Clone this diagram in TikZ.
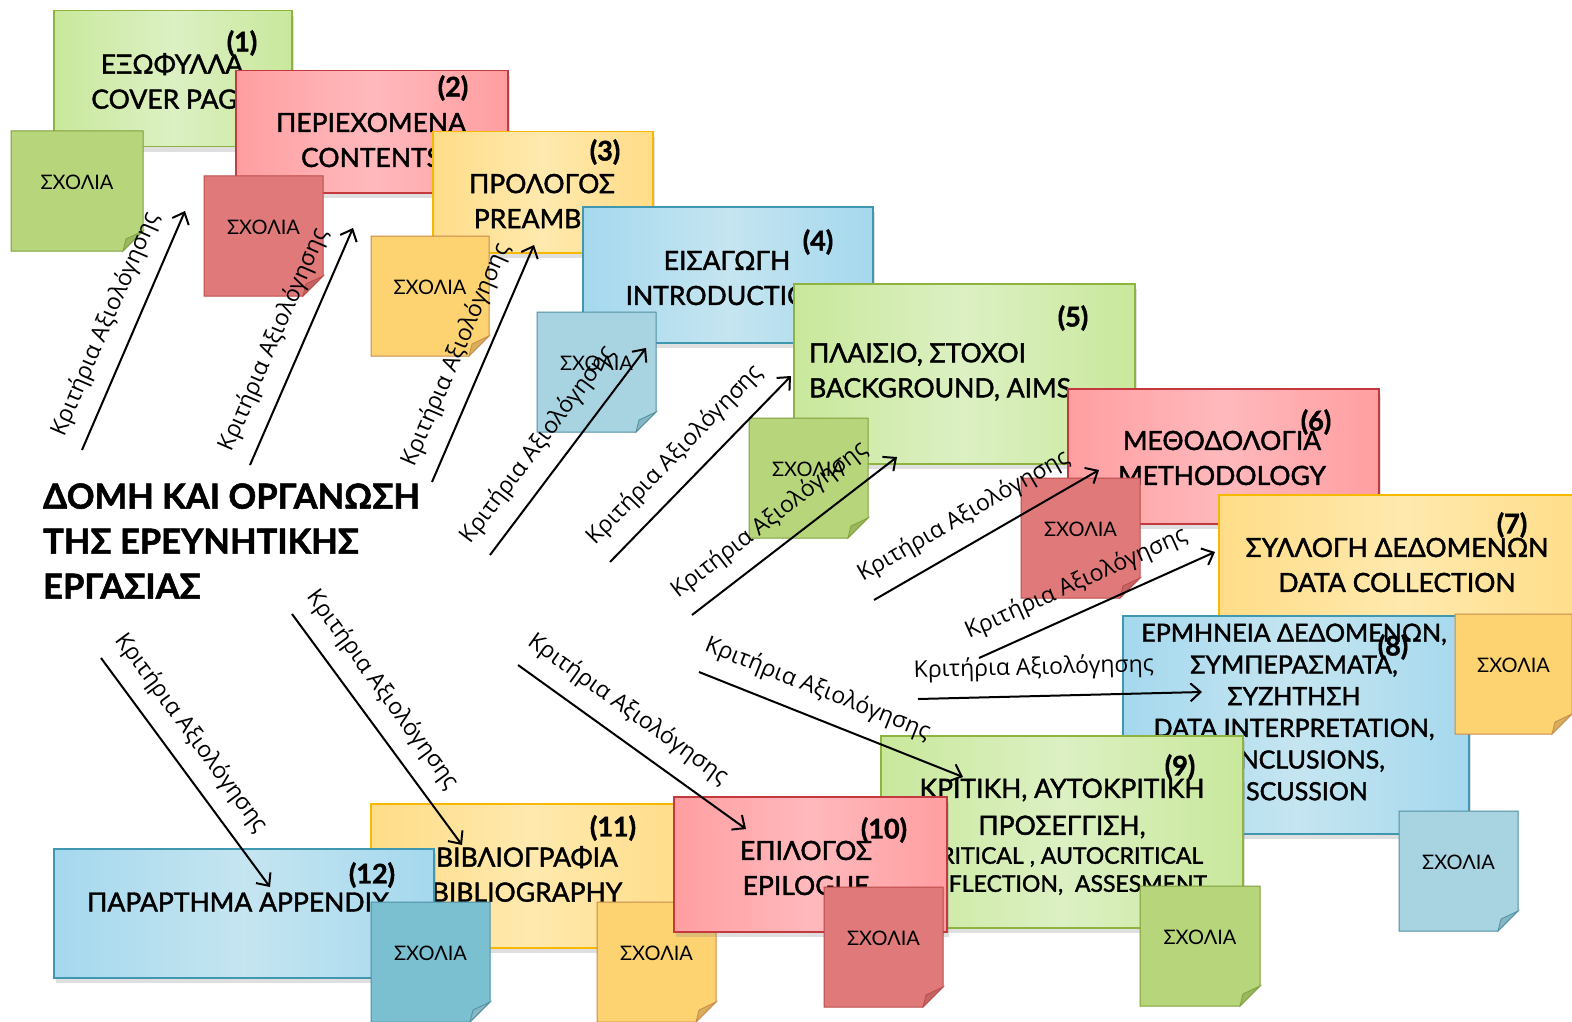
\documentclass[tikz,border=0pt]{standalone}
\usepackage{fontspec}
\setmainfont{Lato}
\newfontfamily\boxfont[FakeBold=1.6]{Lato}
\newfontfamily\labfont{Open Sans}
\usetikzlibrary{arrows.meta,shadows}
% big boxes
\definecolor{gB}{HTML}{8EB43F}\definecolor{gL}{HTML}{C9E89C}\definecolor{gM}{HTML}{DCF0C3}
\definecolor{rB}{HTML}{C4393D}\definecolor{rL}{HTML}{FF9EA1}\definecolor{rM}{HTML}{FFB9BC}
\definecolor{yB}{HTML}{F6B800}\definecolor{yL}{HTML}{FFDD88}\definecolor{yM}{HTML}{FFE9AE}
\definecolor{bB}{HTML}{3F97B0}\definecolor{bL}{HTML}{A5D8EE}\definecolor{bM}{HTML}{C5E5F0}
% sticky notes
\definecolor{gS}{HTML}{B7D57A}\definecolor{gSB}{HTML}{7FA03C}\definecolor{gSF}{HTML}{9AB95E}
\definecolor{rS}{HTML}{E07A7A}\definecolor{rSB}{HTML}{BC4A4A}\definecolor{rSF}{HTML}{C46464}
\definecolor{yS}{HTML}{FCD370}\definecolor{ySB}{HTML}{C98B4C}\definecolor{ySF}{HTML}{D6AE5C}
\definecolor{bS}{HTML}{A8D4E1}\definecolor{bSB}{HTML}{4F8FA3}\definecolor{bSF}{HTML}{86B5C3}
\definecolor{bT}{HTML}{7BC0D1}
\tikzset{
  bigbox/.style={rectangle, line width=1.5pt, inner sep=0pt, anchor=north west,
    drop shadow={shadow xshift=2pt, shadow yshift=-5pt, opacity=0.25}},
  greenbox/.style={bigbox, draw=gB, left color=gL, right color=gL, middle color=gM},
  redbox/.style={bigbox, draw=rB, left color=rL, right color=rL, middle color=rM},
  yellowbox/.style={bigbox, draw=yB, left color=yL, right color=yL, middle color=yM},
  bluebox/.style={bigbox, draw=bB, left color=bL, right color=bL, middle color=bM},
  boxtext/.style={font=\boxfont\fontsize{26.5}{35}\selectfont, align=center, inner sep=0pt, text=black},
  numtext/.style={font=\boxfont\bfseries\fontsize{27}{28}\selectfont, inner sep=0pt},
  notetext/.style={font=\fontsize{20}{24}\selectfont, inner sep=0pt},
  lab/.style={font=\labfont\fontsize{23}{26}\selectfont, sloped, above=15pt, inner sep=0pt},
  arr/.style={line width=2pt, -{Straight Barb[length=10pt,width=18pt]}},
}
\newcommand\stickynote[7]{%
  \path[fill=#5, draw=#6, line width=1pt] (#2,#3) -- ++(#4,0) -- ++(0,100) -- ++(-20,20) -- ++({20-#4},0) -- cycle;
  \path[fill=#7, draw=#6, line width=0.8pt] ({#2+#4},{#3+100}) -- ++(-20,20) -- ++(3,-12) -- cycle;
  \node[notetext] (#1) at ({#2+#4/2},{#3+51}) {ΣΧΟΛΙΑ};}
\begin{document}
\begin{tikzpicture}[x=1pt,y=-1pt]
\useasboundingbox (0,0) rectangle (1572,1022);
% (1)
\node[greenbox, minimum width=238pt, minimum height=136pt] (b1) at (53,10) {};
\node[boxtext] (t1) at (172,81) {ΕΞΩΦΥΛΛΑ\\COVER PAGE};
\node[numtext] (n1) at (242,43) {(1)};
\stickynote{s1}{11}{131}{132}{gS}{gSB}{gSF}
% (2)
\node[redbox, minimum width=272pt, minimum height=122pt] (b2) at (235,70) {};
\node[boxtext] (t2) at (371,140) {ΠΕΡΙΕΧΟΜΕΝΑ\\CONTENTS};
\node[numtext] (n2) at (453,88) {(2)};
\stickynote{s2}{204}{176}{119}{rS}{rSB}{rSF}
% (3)
\node[yellowbox, minimum width=220pt, minimum height=121pt] (b3) at (432,131) {};
\node[boxtext] (t3) at (542,201) {ΠΡΟΛΟΓΟΣ\\PREAMBLE};
\node[numtext] (n3) at (605,152) {(3)};
\stickynote{s3}{371}{236}{118}{yS}{ySB}{ySF}
% (4)
\node[bluebox, minimum width=290pt, minimum height=136pt] (b4) at (582,206) {};
\node[boxtext] (t4) at (727,278) {ΕΙΣΑΓΩΓΗ\\INTRODUCTION};
\node[numtext] (n4) at (818,242) {(4)};
\stickynote{s4}{537}{312}{119}{bS}{bSB}{bSF}
% (5)
\node[greenbox, minimum width=341pt, minimum height=180pt] (b5) at (793,283) {};
\node[boxtext, align=left, anchor=west] (t5) at (809,372) {ΠΛΑΙΣΙΟ, ΣΤΟΧΟΙ\\BACKGROUND, AIMS};
\node[numtext] (n5) at (1073,318) {(5)};
\stickynote{s5}{749}{418}{119}{gS}{gSB}{gSF}
% (6)
\node[redbox, minimum width=311pt, minimum height=135pt] (b6) at (1067,388) {};
\node[boxtext] (t6) at (1222,458) {ΜΕΘΟΔΟΛΟΓΙΑ\\METHODOLOGY};
\node[numtext] (n6) at (1316,422) {(6)};
\stickynote{s6}{1021}{478}{119}{rS}{rSB}{rSF}
% (7)
\node[yellowbox, minimum width=370pt, minimum height=131pt] (b7) at (1218,494) {};
\node[boxtext] (t7) at (1397,565) {ΣΥΛΛΟΓΗ ΔΕΔΟΜΕΝΩΝ\\DATA COLLECTION};
\node[numtext] (n7) at (1512,525) {(7)};
% (8)
\node[bluebox, minimum width=346pt, minimum height=218pt] (b8) at (1122,615) {};
\node[boxtext, font=\boxfont\fontsize{25}{31.7}\selectfont] (t8) at (1294,712) {ΕΡΜΗΝΕΙΑ ΔΕΔΟΜΕΝΩΝ,\\ΣΥΜΠΕΡΑΣΜΑΤΑ,\\ΣΥΖΗΤΗΣΗ\\DATA INTERPRETATION,\\CONCLUSIONS,\\DISCUSSION};
\node[numtext] (n8) at (1393,647) {(8)};
\stickynote{s7}{1455}{614}{117}{yS}{ySB}{ySF}
\stickynote{s8}{1399}{811}{119}{bS}{bSB}{bSF}
% (9)
\node[greenbox, minimum width=362pt, minimum height=192pt] (b9) at (880,735) {};
\node[boxtext, font=\boxfont\fontsize{26.5}{30}\selectfont] (t9a) at (1062,790) {ΚΡΙΤΙΚΗ, ΑΥΤΟΚΡΙΤΙΚΗ};
\node[boxtext, font=\boxfont\fontsize{26.5}{30}\selectfont] (t9b) at (1062,827) {ΠΡΟΣΕΓΓΙΣΗ,};
\node[boxtext, font=\boxfont\fontsize{23}{26}\selectfont] (t9c) at (1064,857) {CRITICAL , AUTOCRITICAL};
\node[boxtext, font=\boxfont\fontsize{23}{26}\selectfont] (t9d) at (1064,885) {REFLECTION,\ \ ASSESMENT};
\node[numtext] (n9) at (1180,767) {(9)};
\stickynote{s9}{1140}{886}{120}{gS}{gSB}{gSF}
% (11)
\node[yellowbox, minimum width=320pt, minimum height=144pt] (b11) at (370,803) {};
\node[boxtext] (t11) at (527,874) {ΒΙΒΛΙΟΓΡΑΦΙΑ\\BIBLIOGRAPHY};
\node[numtext] (n11) at (613,828) {(11)};
\stickynote{s11}{597}{902}{119}{yS}{ySB}{ySF}
% (10)
\node[redbox, minimum width=273pt, minimum height=135pt] (b10) at (673,796) {};
\node[boxtext] (t10) at (806,868) {ΕΠΙΛΟΓΟΣ\\EPILOGUE};
\node[numtext] (n10) at (884,830) {(10)};
\stickynote{s10}{824}{887}{119}{rS}{rSB}{rSF}
% (12)
\node[bluebox, minimum width=380pt, minimum height=129pt] (b12) at (53,848) {};
\node[boxtext, anchor=west] (t12) at (87,902) {ΠΑΡΑΡΤΗΜΑ APPENDIX};
\node[numtext] (n12) at (372,875) {(12)};
\stickynote{s12}{371}{902}{119}{bT}{bSB}{bSF}
% title
\node[font=\boxfont\bfseries\fontsize{34.5}{45}\selectfont, align=left, anchor=west, inner sep=0pt] (title) at (43,541)
  {ΔΟΜΗ ΚΑΙ ΟΡΓΑΝΩΣΗ\\ΤΗΣ ΕΡΕΥΝΗΤΙΚΗΣ\\ΕΡΓΑΣΙΑΣ};
% arrows
\coordinate (a1s) at (82,450);   \coordinate (a1e) at (185,211);
\coordinate (a2s) at (250,465);  \coordinate (a2e) at (353,228);
\coordinate (a3s) at (432,482);  \coordinate (a3e) at (534,245);
\coordinate (a4s) at (490,555);  \coordinate (a4e) at (646,348);
\coordinate (a5s) at (610,562);  \coordinate (a5e) at (791,376);
\coordinate (a6s) at (692,615);  \coordinate (a6e) at (897,457);
\coordinate (a7s) at (874,600);  \coordinate (a7e) at (1099,470);
\coordinate (a8s) at (979,658);  \coordinate (a8e) at (1215,552);
\coordinate (a9s) at (918,699);  \coordinate (a9e) at (1202,692);
\coordinate (a10s) at (699,672); \coordinate (a10e) at (963,777);
\coordinate (a11s) at (518,665); \coordinate (a11e) at (746,829);
\coordinate (a12s) at (292,614); \coordinate (a12e) at (462,845);
\coordinate (a13s) at (101,658); \coordinate (a13e) at (270,887);
\draw[arr] (a1s) -- node[lab, pos=0.48] (l1) {Κριτήρια Αξιολόγησης} (a1e);
\draw[arr] (a2s) -- node[lab, pos=0.48] (l2) {Κριτήρια Αξιολόγησης} (a2e);
\draw[arr] (a3s) -- node[lab, pos=0.49] (l3) {Κριτήρια Αξιολόγησης} (a3e);
\draw[arr] (a4s) -- node[lab, pos=0.45] (l4) {Κριτήρια Αξιολόγησης} (a4e);
\draw[arr] (a5s) -- node[lab, pos=0.47] (l5) {Κριτήρια Αξιολόγησης} (a5e);
\draw[arr] (a6s) -- node[lab, pos=0.46] (l6) {Κριτήρια Αξιολόγησης} (a6e);
\draw[arr] (a7s) -- node[lab, pos=0.46] (l7) {Κριτήρια Αξιολόγησης} (a7e);
\draw[arr] (a8s) -- node[lab, pos=0.46] (l8) {Κριτήρια Αξιολόγησης} (a8e);
\draw[arr] (a9s) -- node[lab, pos=0.41] (l9) {Κριτήρια Αξιολόγησης} (a9e);
\draw[arr] (a10s) -- node[lab, pos=0.41] (l10) {Κριτήρια Αξιολόγησης} (a10e);
\draw[arr] (a11s) -- node[lab, pos=0.41] (l11) {Κριτήρια Αξιολόγησης} (a11e);
\draw[arr] (a12s) -- node[lab, pos=0.40] (l12) {Κριτήρια Αξιολόγησης} (a12e);
\draw[arr] (a13s) -- node[lab, pos=0.40] (l13) {Κριτήρια Αξιολόγησης} (a13e);
\end{tikzpicture}
\end{document}
